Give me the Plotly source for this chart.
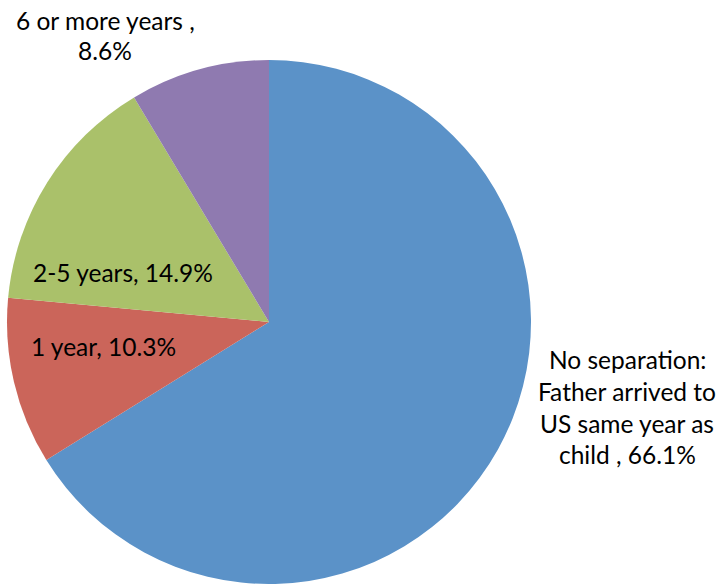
import plotly.graph_objects as go

categories = ["No separation: Father arrived to US same year as child ", "1 year", "2-5 years", "6 or more years "]
values = [66.1, 10.3, 14.9, 8.6]
colors = ["#5B92C8", "#CB655A", "#AAC16A", "#8F7AB0"]

# label text lines built from the data
label_lines = [
    ["No separation:", "Father arrived to", "US same year as", "child , %.1f%%" % values[0]],
    ["%s, %.1f%%" % (categories[1], values[1])],
    ["%s, %.1f%%" % (categories[2], values[2])],
    ["%s," % categories[3], "%.1f%%" % values[3]],
]
# label centers in pixels (x, first-line y, line gap)
W, H = 721, 584
label_pos = [(627, 359, 32), (103, 346, 32), (123, 272, 32), (105, 20, 30)]

fig = go.Figure(go.Pie(
    labels=categories,
    values=values,
    marker=dict(colors=colors, line=dict(width=0)),
    sort=False,
    direction="clockwise",
    rotation=0,
    textinfo="none",
    hoverinfo="label+percent",
    showlegend=False,
    domain=dict(x=[7 / W, 531 / W], y=[0, 1 - 60 / H]),
))

annotations = []
for lines, (px, py, gap) in zip(label_lines, label_pos):
    for i, line in enumerate(lines):
        annotations.append(dict(
            x=px / W, y=1 - (py + i * gap) / H,
            xref="paper", yref="paper",
            text=line, showarrow=False,
            xanchor="center", yanchor="middle",
            font=dict(family="Lato, Open Sans, sans-serif", size=24.5, color="#000000"),
        ))

fig.update_layout(
    width=W, height=H,
    margin=dict(l=0, r=0, t=0, b=0),
    paper_bgcolor="white",
    plot_bgcolor="white",
    annotations=annotations,
)

fig.write_html("out.html", config={"displayModeBar": False},
               post_script="document.body.style.margin='0';document.body.style.padding='0';")
